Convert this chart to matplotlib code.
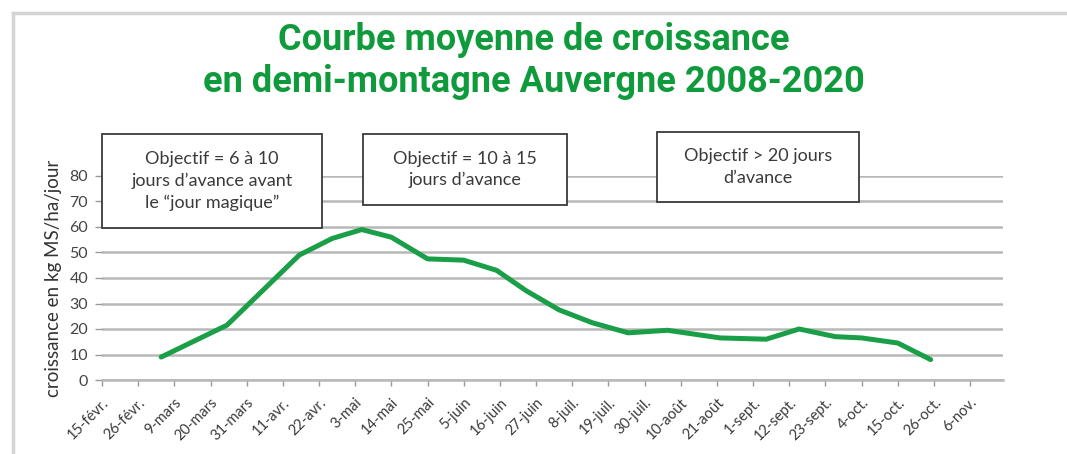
import matplotlib
matplotlib.use("Agg")
import matplotlib.pyplot as plt
from matplotlib.lines import Line2D
from matplotlib.patches import Rectangle

# jours comptés depuis le 15 février
jours = [18, 38, 60, 70, 79, 88, 99, 110, 120, 129, 139, 149, 160, 172, 188, 202, 212, 223, 231, 242, 252]
croissance = [9, 21.5, 49, 55.5, 59, 56, 47.5, 47, 43, 35, 27.5, 22.5, 18.5, 19.5, 16.5, 16, 20, 17, 16.5, 14.5, 8]

etiquettes = ["15-févr.", "26-févr.", "9-mars", "20-mars", "31-mars", "11-avr.", "22-avr.", "3-mai",
              "14-mai", "25-mai", "5-juin", "16-juin", "27-juin", "8-juil.", "19-juil.", "30-juil.",
              "10-août", "21-août", "1-sept.", "12-sept.", "23-sept.", "4-oct.", "15-oct.", "26-oct.", "6-nov."]
pos_ticks = [11 * i for i in range(len(etiquettes))]

objectifs = ["Objectif = 6 à 10\njours d’avance avant\nle “jour magique”",
             "Objectif = 10 à 15\njours d’avance",
             "Objectif > 20 jours\nd’avance"]

titre = "Courbe moyenne de croissance\nen demi-montagne Auvergne 2008-2020"

plt.rcParams['font.family'] = ['Lato', 'DejaVu Sans']

W, H = 1067, 454
fig = plt.figure(figsize=(W / 100, H / 100), dpi=100)
ax = fig.add_axes([102 / W, 1 - 380 / H, 901 / W, 204 / H])

ax.plot(jours, croissance, color="#1a9f48", lw=3.6, solid_joinstyle="round", solid_capstyle="round", zorder=3)

ax.set_xlim(0, 274)
ax.set_ylim(0, 80)
ax.set_yticks(range(0, 81, 10))
ax.set_xticks(pos_ticks)
ax.set_xticklabels(etiquettes, rotation=45, ha="right", rotation_mode="anchor", fontsize=10.5, color="#3a3a3a")
ax.tick_params(axis="y", labelsize=11.5, labelcolor="#444444", length=5, width=1, color="#999999", pad=5)
ax.tick_params(axis="x", length=4, width=1, color="#999999", pad=7)
ax.yaxis.grid(True, color="#b8b8b8", lw=1.8)
ax.set_axisbelow(True)
for s in ["top", "right", "left"]:
    ax.spines[s].set_visible(False)
ax.spines["bottom"].set_color("#b8b8b8")
ax.spines["bottom"].set_linewidth(1.8)

ax.set_ylabel("croissance en kg MS/ha/jour", fontsize=13.5, color="#333333", labelpad=5)

# encadrés objectifs (x0, y0, x1, y1 en pixels)
boites = [(102, 134, 322, 228), (363, 134, 567, 205), (657, 132, 859, 202)]
for txt, (x0, y0, x1, y1) in zip(objectifs, boites):
    fig.add_artist(Rectangle((x0 / W, 1 - y1 / H), (x1 - x0) / W, (y1 - y0) / H,
                             transform=fig.transFigure, fc="white", ec="#3a3a3a", lw=1.3, zorder=5))
    fig.text((x0 + x1) / 2 / W, 1 - (y0 + y1) / 2 / H, txt, ha="center", va="center", fontsize=13,
             color="#3a3a3a", linespacing=1.4, zorder=6)

fig.text(0.5, 1 - 61 / H, titre, ha="center", va="center", fontsize=26, fontweight="bold",
         color="#0f9a3c", family=["Roboto", "DejaVu Sans"], linespacing=1.2)

# cadre gris
fig.add_artist(Line2D([13 / W, 1], [1 - 13 / H, 1 - 13 / H], color="#d4d4d4", lw=2.5))
fig.add_artist(Line2D([13 / W, 13 / W], [0, 1 - 13 / H], color="#d4d4d4", lw=2.5))

fig.savefig("out.png", dpi=100)
